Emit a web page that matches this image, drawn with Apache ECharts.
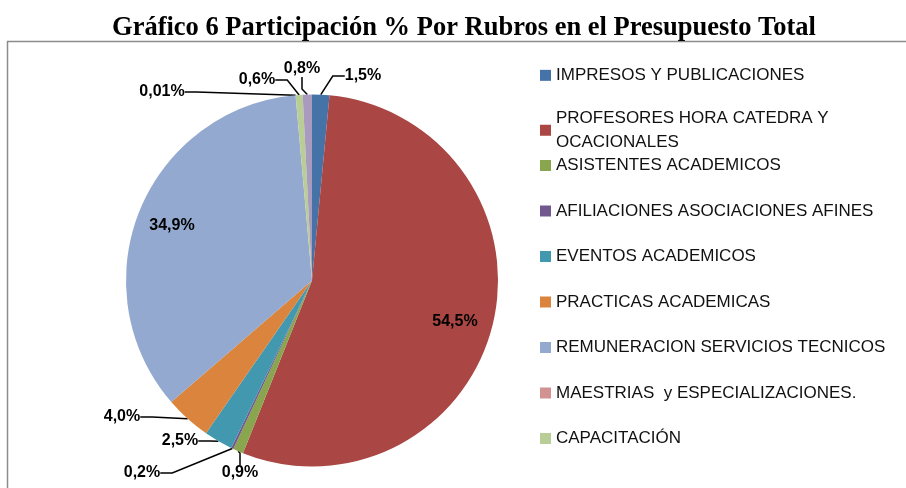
<!DOCTYPE html>
<html>
<head>
<meta charset="utf-8">
<script src="https://cdn.jsdelivr.net/npm/echarts@6/dist/echarts.min.js"></script>
<style>
  html, body { margin: 0; padding: 0; background: #fff; }
  #chart { width: 906px; height: 488px; }
</style>
</head>
<body>
<div id="chart"></div>
<script>
// rubros, en el orden del grafico (a partir de las 12, sentido horario)
const rubros = [
  'IMPRESOS Y PUBLICACIONES',
  'PROFESORES HORA CATEDRA Y OCACIONALES',
  'ASISTENTES ACADEMICOS',
  'AFILIACIONES ASOCIACIONES AFINES',
  'EVENTOS ACADEMICOS',
  'PRACTICAS ACADEMICAS',
  'REMUNERACION SERVICIOS TECNICOS',
  'MAESTRIAS  y ESPECIALIZACIONES.',
  'CAPACITACIÓN',
  'OTROS'
]
const participacion = [1.5, 54.5, 0.9, 0.2, 2.5, 4.0, 34.9, 0.01, 0.6, 0.8]
const etiquetas = ['1,5%', '54,5%', '0,9%', '0,2%', '2,5%', '4,0%', '34,9%', '0,01%', '0,6%', '0,8%']
// la leyenda del original no muestra el ultimo rubro
const rubrosLeyenda = rubros.slice(0, 9)

const colores = ['#4572A7', '#AA4643', '#89A54E', '#71588F', '#4198AF',
  '#DB843D', '#93A9CF', '#D19392', '#B9CD96', '#A99BBD']

// donde quedan las etiquetas (centro del texto), como en el original
const posEtiquetas = [
  [363, 76], [455, 322], [240, 473], [142, 473], [180, 441],
  [122, 417], [172, 226], [162, 92], [257, 80], [302, 69]
]
const dentro = [1, 6]

const fuenteLeyenda = {
  fontFamily: 'Liberation Sans',
  fontSize: 17,
  color: '#111'
}

function leyenda(nombres, top, gap, alto) {
  return {
    orient: 'vertical',
    left: 540,
    top: top,
    padding: 0,
    itemWidth: 11,
    itemHeight: 11,
    itemGap: gap,
    icon: 'rect',
    data: nombres,
    formatter: function (name) {
      return name.replace(' OCACIONALES', '\nOCACIONALES')
    },
    // alto fijo: la segunda linea se sale de la caja, como en Excel
    textStyle: Object.assign({ lineHeight: alto, height: alto }, fuenteLeyenda)
  }
}

const chart = echarts.init(document.getElementById('chart'))

chart.setOption({
  backgroundColor: '#fff',
  animation: false,
  title: {
    text: 'Gráfico 6 Participación % Por Rubros en el Presupuesto Total',
    left: 464,
    top: 15,
    padding: 0,
    textAlign: 'center',
    textStyle: {
      fontFamily: 'Liberation Serif',
      fontWeight: 'bold',
      fontSize: 26.5,
      color: '#000'
    }
  },
  graphic: [{
    type: 'rect',
    silent: true,
    shape: { x: 7.5, y: 41.5, width: 910, height: 470 },
    style: { fill: null, stroke: '#8c8c8c', lineWidth: 1.5 }
  }],
  legend: [
    leyenda(rubrosLeyenda.slice(0, 2), 63.2, 22.1, 24.3),
    leyenda(rubrosLeyenda.slice(2), 153, 20.5, 25)
  ],
  series: [{
    type: 'pie',
    center: [312, 280.5],
    radius: 186,
    startAngle: 90,
    clockwise: true,
    avoidLabelOverlap: false,
    minShowLabelAngle: 0,
    itemStyle: { borderWidth: 0 },
    emphasis: { disabled: true },
    label: {
      show: true,
      position: 'outside',
      fontFamily: 'Liberation Sans',
      fontWeight: 'bold',
      fontSize: 16,
      color: '#000',
      formatter: function (p) {
        return etiquetas[p.dataIndex]
      }
    },
    labelLine: {
      show: true,
      length: 8,
      length2: 12,
      smooth: false,
      lineStyle: { color: '#000', width: 1.5 }
    },
    labelLayout: function (p) {
      const pos = posEtiquetas[p.dataIndex]
      return { x: pos[0], y: pos[1], align: 'center', verticalAlign: 'middle' }
    },
    data: participacion.map(function (v, i) {
      const item = { name: rubros[i], value: v, itemStyle: { color: colores[i] } }
      if (dentro.indexOf(i) >= 0) {
        item.label = { position: 'inside' }
        item.labelLine = { show: false }
      }
      return item
    })
  }]
})
</script>
</body>
</html>
